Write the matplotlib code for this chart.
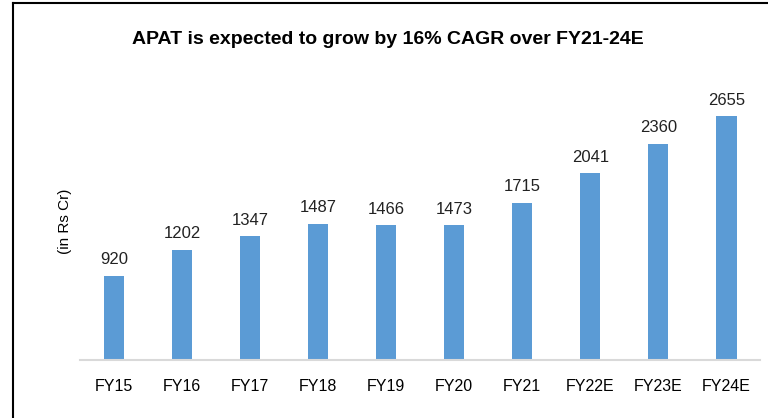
import matplotlib
matplotlib.use("Agg")
import matplotlib.pyplot as plt
from matplotlib.lines import Line2D

years = ['FY15', 'FY16', 'FY17', 'FY18', 'FY19', 'FY20', 'FY21', 'FY22E', 'FY23E', 'FY24E']
apat = [920, 1202, 1347, 1487, 1466, 1473, 1715, 2041, 2360, 2655]

plt.rcParams['font.family'] = ['Liberation Sans', 'DejaVu Sans']

fig = plt.figure(figsize=(7.68, 4.18), dpi=100)
ax = fig.add_axes([0.104, 0.139, 0.886, 0.658])

x = range(len(years))
bars = ax.bar(x, apat, width=0.3, color='#5B9BD5')
for xi, v in zip(x, apat):
    ax.text(xi, v + 90, str(v), ha='center', va='bottom', fontsize=12, color='#222222')

ax.set_xlim(-0.5, len(years) - 0.5)
ax.set_ylim(0, 3000)
ax.set_xticks(list(x))
ax.set_xticklabels(years, fontsize=11.5)
ax.tick_params(axis='x', length=0, pad=14)
ax.set_yticks([])
for s in ['left', 'right', 'top']:
    ax.spines[s].set_visible(False)
ax.spines['bottom'].set_color('#d9d9d9')
ax.spines['bottom'].set_linewidth(1.5)

fig.text(0.084, 0.47, '(in Rs Cr)', rotation=90, ha='center', va='center', fontsize=11)
fig.text(0.505, 0.905, 'APAT is expected to grow by 16% CAGR over FY21-24E',
         ha='center', va='center', fontsize=14, fontweight='bold')

# outer frame (left and top edges visible)
fig.add_artist(Line2D([0.017, 0.017], [0, 0.993], color='black', lw=1.5, transform=fig.transFigure))
fig.add_artist(Line2D([0.017, 1.0], [0.993, 0.993], color='black', lw=1.5, transform=fig.transFigure))

fig.savefig('out.png', dpi=100)
